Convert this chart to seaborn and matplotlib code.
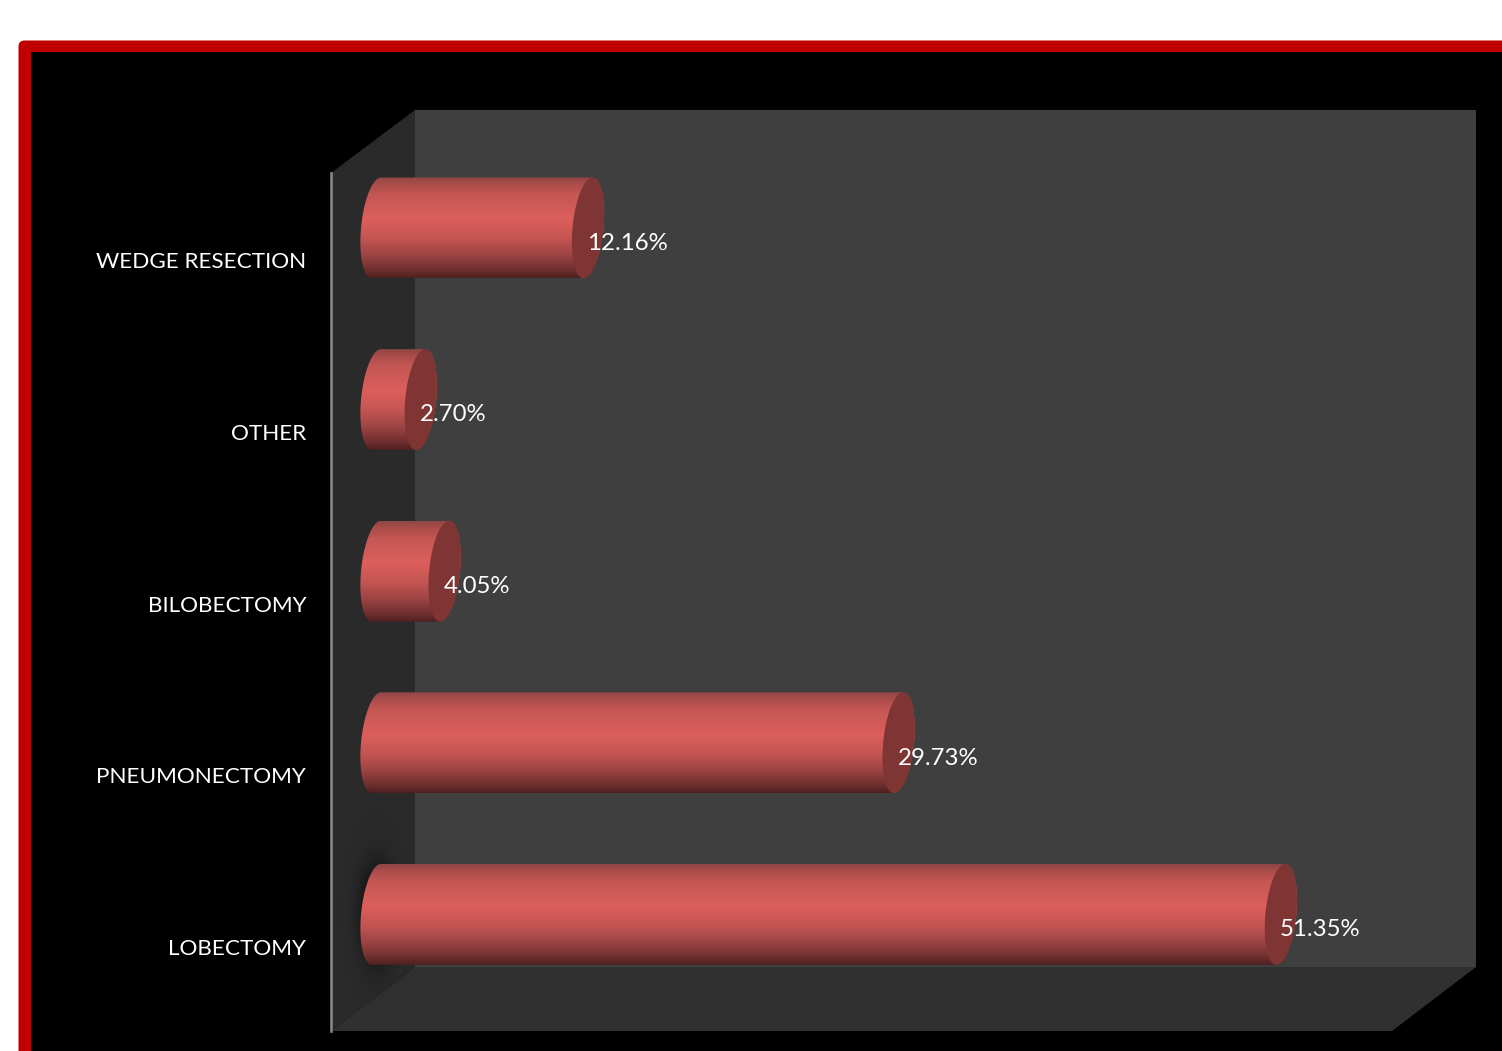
import numpy as np
import matplotlib
matplotlib.use("Agg")
import matplotlib.pyplot as plt
from matplotlib.colors import LinearSegmentedColormap
from matplotlib.patches import FancyBboxPatch, PathPatch, Polygon, Rectangle
from matplotlib.path import Path
import seaborn as sns

procedures = ["WEDGE RESECTION", "OTHER", "BILOBECTOMY", "PNEUMONECTOMY", "LOBECTOMY"]
shares = [12.16, 2.70, 4.05, 29.73, 51.35]
share_labels = ["12.16%", "2.70%", "4.05%", "29.73%", "51.35%"]

W, H = 1502, 1051
PX_PER_UNIT = 17.68     # horizontal pixels per percentage point
ZERO_PX = 373.0         # pixel column of 0 %
ROW_PX = 171.6          # pixel distance between bars
FIRST_ROW_PX = 228.0    # pixel row of the first bar's centre
BAR_WIDTH = 101 / ROW_PX

sns.set_style("white")
plt.rcParams["font.family"] = ["Lato", "DejaVu Sans"]

fig = plt.figure(figsize=(W / 100, H / 100), dpi=100, facecolor="white")

# Backdrop: red rounded frame, black panel and the three walls, in pixel units
bg = fig.add_axes([0, 0, 1, 1])
bg.set_xlim(0, W)
bg.set_ylim(H, 0)
bg.axis("off")
bg.add_patch(FancyBboxPatch((18.5, 40.5), W, H, boxstyle="round,pad=0,rounding_size=6",
                            fc="#c00000", ec="none"))
bg.add_patch(Rectangle((31, 52), W, H, fc="black", ec="none"))
bg.add_patch(Rectangle((415, 110), 1061, 857, fc="#3f3f3f", ec="none"))
bg.add_patch(Polygon([(331, 173), (415, 110), (415, 967), (331, 1031)], fc="#2a2a2a", ec="none"))
bg.add_patch(Polygon([(331, 1031), (415, 967), (1476, 967), (1392, 1031)], fc="#303030", ec="none"))

# Chart axes, transparent, placed over the backdrop
left, right, top, bottom = 331, 1476, 173, 1031
ax = fig.add_axes([left / W, 1 - bottom / H, (right - left) / W, (bottom - top) / H])
ax.patch.set_alpha(0)

sns.barplot(x=shares, y=procedures, orient="h", color="#c0504d", width=BAR_WIDTH, ax=ax)

body_cmap = LinearSegmentedColormap.from_list(
    "cylinder",
    [(0.00, "#8f4644"), (0.06, "#a84c4a"), (0.18, "#c65755"), (0.42, "#dc5f5c"),
     (0.62, "#c25452"), (0.78, "#9a4342"), (0.92, "#6e2f2e"), (1.00, "#4e2020")],
)
shade = np.linspace(0, 1, 256).reshape(-1, 1)

a = 15.5 / PX_PER_UNIT      # half width of an end ellipse
skew = 4.5 / PX_PER_UNIT    # slant of an end ellipse
base = 3.5 / PX_PER_UNIT    # centre of the rear ellipse


def end_cap(cx, cy, b, start, stop):
    t = np.linspace(start, stop, 80)
    # y grows downwards on this axis
    return np.column_stack([cx + a * np.cos(t) + skew * np.sin(t), cy - b * np.sin(t)])


bars = list(ax.patches)
for bar, value in zip(bars, shares):
    bar.set_visible(False)
    cy = bar.get_y() + bar.get_height() / 2
    b = bar.get_height() / 2
    outline = np.vstack([
        end_cap(value, cy, b, -np.pi / 2, np.pi / 2),
        end_cap(base, cy, b, np.pi / 2, 3 * np.pi / 2),
    ])
    clip = PathPatch(Path(np.vstack([outline, outline[:1]])), transform=ax.transData, fc="none", ec="none")
    ax.add_patch(clip)
    im = ax.imshow(shade, cmap=body_cmap, aspect="auto", zorder=3, vmin=0, vmax=1,
                   extent=(-a - skew, value + a + skew, cy + b, cy - b), interpolation="bilinear")
    im.set_clip_path(clip)
    cap = end_cap(value, cy, b, 0, 2 * np.pi)
    ax.add_patch(Polygon(cap, closed=True, fc="#7f3533", ec="none", zorder=4))

# Soft contact shadow behind the rear end of the longest bar
longest = int(np.argmax(shares))
gx, gy = np.meshgrid(np.linspace(-1.4, 1.4, 140), np.linspace(-1.4, 1.4, 240))
glow = np.zeros(gx.shape + (4,))
glow[..., 3] = 1.0 * np.exp(-(gx ** 2 + gy ** 2) / 0.36)
half_w = 1.4 * 26 / PX_PER_UNIT
half_h = 1.4 * 74 / ROW_PX
ax.imshow(glow, aspect="auto", zorder=2, interpolation="bilinear",
          extent=(base - half_w, base + half_w, longest + half_h, longest - half_h))

ax.set_xlim((left - ZERO_PX) / PX_PER_UNIT, (right - ZERO_PX) / PX_PER_UNIT)
ax.set_ylim((bottom - FIRST_ROW_PX) / ROW_PX, (top - FIRST_ROW_PX) / ROW_PX)

# Value labels begin at the centre of each end cap, slightly below the bar's middle
for i, (value, text) in enumerate(zip(shares, share_labels)):
    ax.text(value - 1 / PX_PER_UNIT, i + 15.3 / ROW_PX, text, color="white", fontsize=17.3,
            ha="left", va="center", zorder=5)

# Category labels sit lower than the bars they name
ax.set_yticks(np.arange(len(procedures)) + 32.4 / ROW_PX)
ax.set_yticklabels(procedures, color="white", fontsize=16.2)
ax.tick_params(axis="y", length=0, pad=18)
ax.set_xticks([])
ax.set_xlabel("")
ax.set_ylabel("")
for side in ("top", "right", "bottom"):
    ax.spines[side].set_visible(False)
ax.spines["left"].set_color("#868686")
ax.spines["left"].set_linewidth(1.9)

fig.savefig("out.png", dpi=100, facecolor="white")
